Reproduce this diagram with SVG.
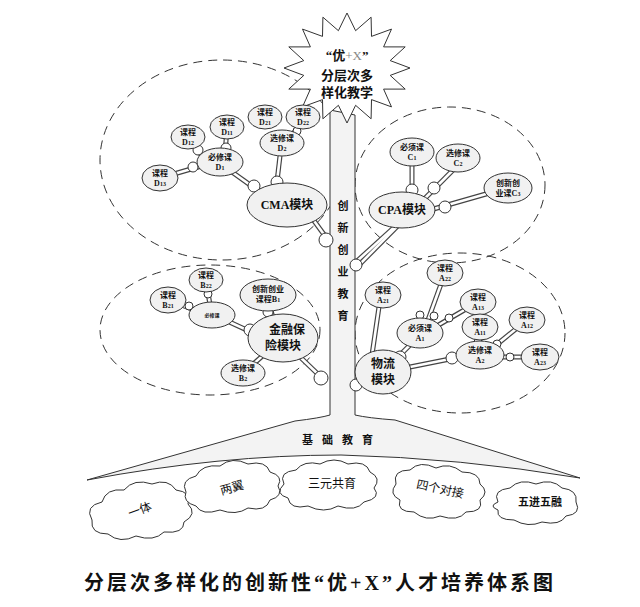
<svg xmlns="http://www.w3.org/2000/svg" xmlns:xlink="http://www.w3.org/1999/xlink" width="640" height="607" viewBox="0 0 640 607">
<style>
text{font-family:"Liberation Serif","Noto Sans CJK SC",serif;fill:#111;text-anchor:middle}
.n{fill:#f1f1f1;stroke:#333;stroke-width:1}
.c{fill:#fff;stroke:#333;stroke-width:1}
.d{fill:none;stroke:#333;stroke-width:1;stroke-dasharray:9 6}
.s{font-size:8px;font-weight:bold}
.m{font-size:12px;font-weight:bold}
.b{font-size:6px}
</style>
<defs>
<g id="links">
<line x1="160" y1="178" x2="205" y2="165"/><line x1="188" y1="137" x2="205" y2="160"/><line x1="227" y1="127" x2="225" y2="155"/>
<line x1="232" y1="172" x2="260" y2="192"/><line x1="280" y1="156" x2="276" y2="190"/><line x1="303" y1="117" x2="290" y2="140"/>
<line x1="312" y1="218" x2="328" y2="240"/>
<line x1="412" y1="166" x2="412" y2="195"/><line x1="458" y1="165" x2="356" y2="268"/><line x1="500" y1="190" x2="430" y2="210"/>
<line x1="400" y1="222" x2="356" y2="262"/>
<line x1="168" y1="300" x2="200" y2="312"/><line x1="206" y1="280" x2="210" y2="305"/><line x1="225" y1="320" x2="260" y2="336"/>
<line x1="268" y1="300" x2="275" y2="325"/><line x1="243" y1="373" x2="275" y2="345"/><line x1="298" y1="355" x2="322" y2="378"/>
<line x1="380" y1="300" x2="372" y2="355"/><line x1="420" y1="335" x2="395" y2="360"/><line x1="395" y1="370" x2="470" y2="355"/>
<line x1="445" y1="273" x2="428" y2="320"/><line x1="478" y1="302" x2="430" y2="330"/><line x1="480" y1="327" x2="480" y2="350"/>
<line x1="527" y1="320" x2="490" y2="350"/><line x1="540" y1="357" x2="490" y2="357"/>
</g>
</defs>
<g id="circles-dashed">
<ellipse class="d" cx="222" cy="160" rx="122" ry="100"/>
<ellipse class="d" cx="450" cy="185" rx="95" ry="78"/>
<ellipse class="d" cx="210" cy="330" rx="110" ry="65"/>
<ellipse class="d" cx="460" cy="333" rx="105" ry="80"/>
</g>
<g id="tree">
<path d="M330,110 L330,415 Q320,418 295,421 L87,480 Q220,455 341,455 Q460,458 580,478 L395,420 Q368,418 355,415 L355,115 Z" fill="#f3f3f3" stroke="#333" stroke-width="1"/>
<text x="342" y="444" font-size="11" font-weight="bold" letter-spacing="9">基础教育</text>
<text x="343" y="210" font-size="11" font-weight="bold">创</text>
<text x="343" y="232" font-size="11" font-weight="bold">新</text>
<text x="343" y="254" font-size="11" font-weight="bold">创</text>
<text x="343" y="276" font-size="11" font-weight="bold">业</text>
<text x="343" y="298" font-size="11" font-weight="bold">教</text>
<text x="343" y="320" font-size="11" font-weight="bold">育</text>
</g>
<g id="connectors">
<use xlink:href="#links" href="#links" stroke="#444" stroke-width="5"/>
<use xlink:href="#links" href="#links" stroke="#fff" stroke-width="2.6"/>
<g>
<circle class="c" cx="193" cy="167" r="5"/><circle class="c" cx="198" cy="150" r="5"/><circle class="c" cx="226" cy="148" r="5"/>
<circle class="c" cx="254" cy="186" r="6"/><circle class="c" cx="277" cy="182" r="6"/><circle class="c" cx="297" cy="131" r="4"/>
<circle class="c" cx="326" cy="240" r="7"/>
<circle class="c" cx="412" cy="190" r="6"/><circle class="c" cx="434" cy="188" r="6"/><circle class="c" cx="445" cy="207" r="6"/>
<circle class="c" cx="356" cy="265" r="6"/>
<circle class="c" cx="189" cy="306" r="4"/><circle class="c" cx="208" cy="294" r="4"/><circle class="c" cx="250" cy="330" r="6"/>
<circle class="c" cx="268" cy="312" r="5"/><circle class="c" cx="268" cy="352" r="5"/><circle class="c" cx="321" cy="378" r="7"/>
<circle class="c" cx="356" cy="385" r="6"/><circle class="c" cx="400" cy="357" r="6"/><circle class="c" cx="452" cy="358" r="6"/>
<circle class="c" cx="420" cy="315" r="4"/><circle class="c" cx="434" cy="316" r="4"/><circle class="c" cx="449" cy="318" r="4"/>
<circle class="c" cx="478" cy="342" r="4"/><circle class="c" cx="497" cy="344" r="4"/><circle class="c" cx="510" cy="357" r="4"/>
</g>
</g>
<g id="star">
<polygon points="410,68 390.2,75.4 405.2,89.1 383.6,89.1 391.5,106.9 371.5,99.6 371.1,118.8 355.6,105.3 347,123 338.4,105.3 322.9,118.8 322.5,99.6 302.5,106.9 310.4,89.1 288.8,89.1 303.8,75.4 284,68 303.8,60.6 288.8,46.9 310.4,46.9 302.5,29.1 322.5,36.4 322.9,17.2 338.4,30.7 347,13 355.6,30.7 371.1,17.2 371.5,36.4 391.5,29.1 383.6,46.9 405.2,46.9 390.2,60.6" fill="#fff" stroke="#333" stroke-width="1"/>
<text x="347" y="60" font-size="13" font-weight="bold">“优<tspan fill="#888" font-weight="normal">+X</tspan>”</text>
<text x="347" y="80" font-size="13" font-weight="bold">分层次多</text>
<text x="347" y="97" font-size="13" font-weight="bold">样化教学</text>
</g>
<g id="cma">
<g><ellipse class="n" cx="188" cy="137" rx="17" ry="12"/><text class="s" x="188" y="135">课程</text><text class="s" x="188" y="145">D<tspan class="b">12</tspan></text></g>
<g><ellipse class="n" cx="227" cy="127" rx="17" ry="12"/><text class="s" x="227" y="125">课程</text><text class="s" x="227" y="135">D<tspan class="b">11</tspan></text></g>
<g><ellipse class="n" cx="265" cy="117" rx="17" ry="12"/><text class="s" x="265" y="115">课程</text><text class="s" x="265" y="125">D<tspan class="b">21</tspan></text></g>
<g><ellipse class="n" cx="303" cy="117" rx="17" ry="12"/><text class="s" x="303" y="115">课程</text><text class="s" x="303" y="125">D<tspan class="b">22</tspan></text></g>
<g><ellipse class="n" cx="282" cy="143" rx="22" ry="13"/><text class="s" x="282" y="141">选修课</text><text class="s" x="282" y="151">D<tspan class="b">2</tspan></text></g>
<g><ellipse class="n" cx="220" cy="162" rx="23" ry="14"/><text class="s" x="220" y="160">必修课</text><text class="s" x="220" y="170">D<tspan class="b">1</tspan></text></g>
<g><ellipse class="n" cx="160" cy="178" rx="18" ry="13"/><text class="s" x="160" y="176">课程</text><text class="s" x="160" y="186">D<tspan class="b">13</tspan></text></g>
<g><ellipse class="n" cx="287" cy="205" rx="40" ry="22"/><text class="m" x="287" y="209">CMA模块</text></g>
</g>
<g id="cpa">
<g><ellipse class="n" cx="412" cy="152" rx="22" ry="14"/><text class="s" x="412" y="150">必须课</text><text class="s" x="412" y="160">C<tspan class="b">1</tspan></text></g>
<g><ellipse class="n" cx="458" cy="158" rx="22" ry="14"/><text class="s" x="458" y="156">选修课</text><text class="s" x="458" y="166">C<tspan class="b">2</tspan></text></g>
<g><ellipse class="n" cx="508" cy="188" rx="24" ry="15"/><text class="s" x="508" y="186">创新创</text><text class="s" x="508" y="196">业课C<tspan class="b">3</tspan></text></g>
<g><ellipse class="n" cx="402" cy="210" rx="33" ry="18"/><text class="m" x="402" y="214">CPA模块</text></g>
</g>
<g id="finance">
<g><ellipse class="n" cx="168" cy="300" rx="18" ry="13"/><text class="s" x="168" y="298">课程</text><text class="s" x="168" y="308">B<tspan class="b">21</tspan></text></g>
<g><ellipse class="n" cx="206" cy="280" rx="17" ry="12"/><text class="s" x="206" y="278">课程</text><text class="s" x="206" y="288">B<tspan class="b">22</tspan></text></g>
<g><ellipse class="n" cx="212" cy="315" rx="23" ry="13"/><text x="212" y="317" font-size="5" font-weight="bold">必修课</text></g>
<g><ellipse class="n" cx="268" cy="295" rx="28" ry="16"/><text class="s" x="268" y="292">创新创业</text><text class="s" x="268" y="302">课程B<tspan class="b">1</tspan></text></g>
<g><ellipse class="n" cx="283" cy="338" rx="35" ry="24"/><text class="m" x="287" y="334">金融保</text><text class="m" x="283" y="350">险模块</text></g>
<g><ellipse class="n" cx="243" cy="373" rx="22" ry="13"/><text class="s" x="243" y="371">选修课</text><text class="s" x="243" y="381">B<tspan class="b">2</tspan></text></g>
</g>
<g id="logistics">
<g><ellipse class="n" cx="445" cy="273" rx="18" ry="13"/><text class="s" x="445" y="271">课程</text><text class="s" x="445" y="281">A<tspan class="b">22</tspan></text></g>
<g><ellipse class="n" cx="383" cy="295" rx="18" ry="13"/><text class="s" x="383" y="293">课程</text><text class="s" x="383" y="303">A<tspan class="b">21</tspan></text></g>
<g><ellipse class="n" cx="478" cy="302" rx="18" ry="13"/><text class="s" x="478" y="300" fill="#888">课程</text><text class="s" x="478" y="310">A<tspan class="b">13</tspan></text></g>
<g><ellipse class="n" cx="420" cy="333" rx="23" ry="15"/><text class="s" x="420" y="331">必须课</text><text class="s" x="420" y="341">A<tspan class="b">1</tspan></text></g>
<g><ellipse class="n" cx="480" cy="327" rx="18" ry="13"/><text class="s" x="480" y="325">课程</text><text class="s" x="480" y="335">A<tspan class="b">11</tspan></text></g>
<g><ellipse class="n" cx="527" cy="320" rx="18" ry="13"/><text class="s" x="527" y="318">课程</text><text class="s" x="527" y="328">A<tspan class="b">12</tspan></text></g>
<g><ellipse class="n" cx="480" cy="355" rx="24" ry="14"/><text class="s" x="480" y="353">选修课</text><text class="s" x="480" y="363">A<tspan class="b">2</tspan></text></g>
<g><ellipse class="n" cx="540" cy="357" rx="19" ry="13"/><text class="s" x="540" y="355">课程</text><text class="s" x="540" y="365">A<tspan class="b">23</tspan></text></g>
<g><ellipse class="n" cx="383" cy="372" rx="28" ry="22"/><text class="m" x="383" y="368">物流</text><text class="m" x="383" y="384">模块</text></g>
</g>
<g id="clouds" fill="#fff" stroke="#333" stroke-width="1">
<g><path d="M92,520 q-8,-14 10,-18 q4,-14 22,-12 q10,-12 28,-6 q16,-6 24,6 q16,2 12,14 q10,10 -4,18 q0,12 -20,10 q-10,10 -28,4 q-16,8 -28,-2 q-18,0 -16,-14z"/><text x="140" y="514" font-size="12" stroke="none" transform="rotate(-20 140 510)">一体</text></g>
<g><path d="M186,492 q-6,-12 10,-16 q6,-12 24,-10 q12,-10 28,-2 q18,-4 22,8 q14,4 8,14 q6,10 -8,14 q-4,12 -22,8 q-12,8 -28,2 q-18,6 -24,-4 q-14,-4 -10,-14z"/><text x="232" y="492" font-size="12" stroke="none" transform="rotate(-15 232 488)">两翼</text></g>
<g><path d="M284,484 q-6,-12 12,-14 q8,-10 24,-6 q14,-8 28,0 q18,-4 22,8 q12,6 4,16 q8,10 -10,14 q-8,10 -26,4 q-14,8 -30,0 q-18,4 -20,-8 q-14,-4 -4,-14z"/><text x="332" y="488" font-size="12" stroke="none">三元共育</text></g>
<g><path d="M396,484 q-4,-14 14,-14 q10,-10 26,-2 q14,-6 26,4 q18,0 18,12 q10,8 0,16 q4,12 -14,12 q-8,10 -26,4 q-14,6 -26,-4 q-18,0 -14,-12 q-12,-6 -4,-16z"/><text x="440" y="493" font-size="12" stroke="none" transform="rotate(12 440 489)">四个对接</text></g>
<g><path d="M498,502 q-6,-12 12,-14 q10,-10 26,-4 q16,-6 26,4 q16,2 14,14 q6,12 -10,14 q-6,10 -24,6 q-14,6 -28,-2 q-18,0 -16,-10 q-10,-4 0,-8z"/><text x="540" y="506" font-size="11" font-weight="bold" stroke="none">五进五融</text></g>
</g>
<text x="320" y="590" font-size="20" font-weight="bold" letter-spacing="3">分层次多样化的创新性“优+X”人才培养体系图</text>
</svg>
